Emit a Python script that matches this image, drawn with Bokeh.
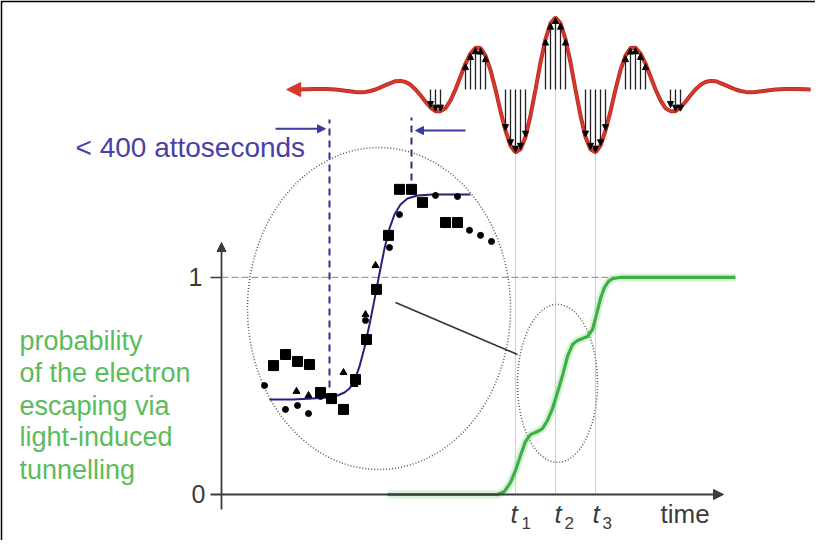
from bokeh.plotting import figure
from bokeh.models import Range1d, Arrow, NormalHead, ColumnDataSource
from bokeh.core.properties import value
from bokeh.embed import file_html
from bokeh.resources import INLINE

# x unit: time (t1 = 1, t2 = 2, t3 = 3); y unit: probability of escape
# --- light field (red pulse) ---
wave_t = [-4.5, -4.25, -4.0, -3.75, -3.5, -3.25,
          -3.0, -2.875, -2.75, -2.625, -2.5, -2.375, -2.25, -2.125, -2.0, -1.875,
          -1.75, -1.625, -1.5, -1.375, -1.25, -1.125, -1.0, -0.875, -0.75, -0.625,
          -0.5, -0.375, -0.25, -0.125, 0.0, 0.125, 0.25, 0.375, 0.5, 0.625,
          0.75, 0.875, 1.0, 1.125, 1.25, 1.375, 1.5, 1.625, 1.75, 1.875, 2.0,
          2.125, 2.25, 2.375, 2.5, 2.625, 2.75, 2.875, 3.0, 3.125, 3.25,
          3.375, 3.5, 3.625, 3.75, 3.875, 4.0, 4.125, 4.25, 4.375, 4.5,
          4.625, 4.75, 4.875, 5.0, 5.125, 5.25, 5.375, 5.5, 5.625, 5.75,
          5.875, 6.0, 6.125, 6.25, 6.375, 6.5, 6.625, 6.75, 6.875, 7.0,
          7.25, 7.5, 7.75, 8.0, 8.25, 8.375]
wave_field = [0.0, 0.004, 0.008, 0.008, 0.0, -0.018,
              -0.035, -0.037, -0.033, -0.02, 0.0, 0.03, 0.06, 0.09, 0.115, 0.12,
              0.105, 0.065, 0.0, -0.08, -0.17, -0.25, -0.30, -0.30, -0.26, -0.15,
              0.0, 0.18, 0.36, 0.50, 0.58, 0.575, 0.47, 0.27, 0.0, -0.30,
              -0.57, -0.78, -0.87, -0.83, -0.66, -0.36, 0.0, 0.375, 0.70, 0.92, 1.00,
              0.92, 0.70, 0.375, 0.0, -0.36, -0.66, -0.83, -0.87, -0.78, -0.57,
              -0.30, 0.0, 0.27, 0.47, 0.575, 0.58, 0.50, 0.36, 0.18, 0.0,
              -0.15, -0.26, -0.30, -0.30, -0.25, -0.17, -0.08, 0.0, 0.065, 0.105,
              0.12, 0.115, 0.09, 0.06, 0.03, 0.0, -0.02, -0.033, -0.037, -0.035,
              -0.018, 0.0, 0.008, 0.008, 0.004, 0.002]
wave_base = 1.866
wave_amp = 0.332

# field vectors under the pulse
vec_t = [-1.125, -1.0, -0.875,
         -0.25, -0.125, 0.0, 0.125, 0.25,
         0.75, 0.875, 1.0, 1.125, 1.25,
         1.75, 1.875, 2.0, 2.125, 2.25,
         2.75, 2.875, 3.0, 3.125, 3.25,
         3.75, 3.875, 4.0, 4.125, 4.25,
         4.875, 5.0, 5.125]
vec_field = [-0.25, -0.30, -0.30,
             0.36, 0.50, 0.58, 0.575, 0.47,
             -0.57, -0.78, -0.87, -0.83, -0.66,
             0.70, 0.92, 1.00, 0.92, 0.70,
             -0.66, -0.83, -0.87, -0.78, -0.57,
             0.47, 0.575, 0.58, 0.50, 0.36,
             -0.25, -0.30, -0.30]

# --- probability of escape (green) ---
green_t = [-2.2, 0.55, 0.725, 0.875, 1.0, 1.125, 1.25, 1.375, 1.55, 1.675, 1.8, 1.925,
           2.05, 2.175, 2.3, 2.425, 2.55, 2.675, 2.8, 2.925, 3.025, 3.125, 3.225,
           3.325, 3.425, 3.6, 6.5]
green_p = [0.0, 0.0, 0.014, 0.055, 0.111, 0.18, 0.244, 0.276, 0.29, 0.304, 0.341, 0.396,
           0.47, 0.548, 0.636, 0.691, 0.71, 0.719, 0.728, 0.76, 0.829, 0.903, 0.954,
           0.982, 0.995, 1.0, 1.0]

# --- measured step (inset) ---
fit_t = [-5.15, -4.575, -4.075, -3.7, -3.45, -3.275, -3.15, -3.025, -2.9, -2.775,
         -2.65, -2.525, -2.4, -2.275, -2.15, -2.025, -1.875, -1.7, -1.45, -1.075, -0.125]
fit_p = [0.438, 0.438, 0.442, 0.447, 0.456, 0.47, 0.488, 0.525, 0.59, 0.677,
         0.783, 0.899, 1.018, 1.134, 1.226, 1.290, 1.336, 1.364, 1.378, 1.382, 1.382]
sq_t = [-5.05, -4.75, -4.45, -4.15, -3.875, -3.6, -3.3, -3.0, -2.725, -2.475,
        -2.175, -1.9, -1.6, -1.325, -0.75, -0.45]
sq_p = [0.594, 0.645, 0.613, 0.599, 0.470, 0.442, 0.392, 0.530, 0.714, 0.945,
        1.194, 1.406, 1.406, 1.346, 1.253, 1.253]
ci_t = [-5.275, -4.75, -4.45, -4.175, -3.875, -3.55, -2.75, -2.15, -1.9, -1.0,
        -0.45, -0.15, 0.125, 0.4]
ci_p = [0.502, 0.392, 0.410, 0.373, 0.452, 0.452, 0.802, 1.138, 1.290, 1.378,
        1.373, 1.217, 1.194, 1.166]
tri_t = [-4.475, -4.175, -3.3, -3.025, -2.75, -2.5]
tri_p = [0.475, 0.456, 0.562, 0.507, 0.829, 1.055]

# --- annotations ---
t_marks = [1.0, 2.0, 3.0]
t_mark_top = [1.577, 1.866, 1.577]
t_labels = ["1", "2", "3"]
t_sym_x = [0.875, 1.975, 2.925]
t_sub_x = [1.15, 2.225, 3.175]
y_tick_vals = [0, 1]
y_tick_labels = ["0", "1"]
green_lines = ["probability", "of the electron", "escaping via", "light-induced", "tunnelling"]
green_line_y = [0.705, 0.558, 0.410, 0.263, 0.115]
atto_text = "< 400 attoseconds"
time_text = "time"

# geometry of the schematic (data units)
axis_x = -6.35
axis_left = -6.625
axis_right = 6.2
axis_top = 1.161
axis_bottom = -0.069
one_line_end = 3.5
big_ell = dict(x=-2.4125, y=0.857, w=6.575, h=1.484)
small_ell = dict(x=2.05, y=0.512, w=2.0, h=0.728)
connector = dict(x0=-2.0, y0=0.885, x1=1.05, y1=0.645)
dash_x = [-3.65, -1.6]
dash_y0 = [0.493, 1.392]
dash_y1 = [1.728, 1.737]
arrow_l = dict(x0=-5.0, x1=-3.75, y=1.685)
arrow_r = dict(x0=-0.25, x1=-1.5, y=1.677)
wave_tip = -4.72

FONT = value("Liberation Sans")
GRAY = "#3c3c3c"
GREEN = "#3cb043"
BLUE = "#3d3a9e"
RED = "#d8382c"

p = figure(width=815, height=540, x_range=Range1d(-11.825, 8.5), y_range=Range1d(-0.212, 2.267),
           output_backend="svg", toolbar_location=None,
           x_axis_location=None, y_axis_location=None,
           min_border_left=2, min_border_top=2, min_border_right=0, min_border_bottom=0)
p.grid.visible = False
p.border_fill_color = "black"
p.background_fill_color = "white"
p.outline_line_color = None

# big and small dotted ellipses
p.ellipse(x=[big_ell["x"]], y=[big_ell["y"]], width=[big_ell["w"]], height=[big_ell["h"]],
          fill_color=None, line_color="#555555", line_width=1.5, line_dash="1 2")
p.ellipse(x=[small_ell["x"]], y=[small_ell["y"]], width=[small_ell["w"]], height=[small_ell["h"]],
          fill_color=None, line_color="#555555", line_width=1.5, line_dash="1 2")

# level 1 dashed line
p.segment(x0=[axis_x], y0=[1], x1=[one_line_end], y1=[1], line_color="#9a9a9a",
          line_width=1.2, line_dash="7 3")
# vertical time markers
p.segment(x0=t_marks, y0=[0] * 3, x1=t_marks, y1=t_mark_top, line_color="#a8a8a8",
          line_width=1.2, line_dash="1 1")

# connector
p.segment(x0=[connector["x0"]], y0=[connector["y0"]], x1=[connector["x1"]], y1=[connector["y1"]],
          line_color="#333333", line_width=1.6)

# axes
p.segment(x0=[axis_left], y0=[1], x1=[axis_x], y1=[1], line_color=GRAY, line_width=1.5)
p.add_layout(Arrow(x_start=axis_x, y_start=axis_bottom, x_end=axis_x, y_end=axis_top,
                   line_color=GRAY, line_width=1.8,
                   end=NormalHead(size=9, fill_color=GRAY, line_color=GRAY)))
p.add_layout(Arrow(x_start=axis_left, y_start=0, x_end=axis_right, y_end=0,
                   line_color=GRAY, line_width=1.8,
                   end=NormalHead(size=10, fill_color=GRAY, line_color=GRAY)))

# green probability curve
p.line(green_t, green_p, line_width=8, line_color="#8fd88f", line_alpha=0.35)
p.line(green_t, green_p, line_width=3.2, line_color=GREEN)

# inset: measured data and fit
p.segment(x0=dash_x, y0=dash_y0, x1=dash_x, y1=dash_y1, line_color="#2f2f86",
          line_width=2, line_dash="7 5")
p.line(fit_t, fit_p, line_width=2, line_color="#23237e")
p.scatter(sq_t, sq_p, marker="square", size=10, color="black")
p.scatter(ci_t, ci_p, marker="circle", size=6, color="black")
p.scatter(tri_t, tri_p, marker="triangle", size=7, color="black")

p.add_layout(Arrow(x_start=arrow_l["x0"], y_start=arrow_l["y"], x_end=arrow_l["x1"], y_end=arrow_l["y"],
                   line_color=BLUE, line_width=2,
                   end=NormalHead(size=8, fill_color=BLUE, line_color=BLUE)))
p.add_layout(Arrow(x_start=arrow_r["x0"], y_start=arrow_r["y"], x_end=arrow_r["x1"], y_end=arrow_r["y"],
                   line_color=BLUE, line_width=2,
                   end=NormalHead(size=8, fill_color=BLUE, line_color=BLUE)))

# field vectors
vec_src = ColumnDataSource(data=dict(
    x0=vec_t, y0=[wave_base] * len(vec_t), x1=vec_t,
    y1=[wave_base + wave_amp * f for f in vec_field]))
p.add_layout(Arrow(source=vec_src, x_start="x0", y_start="y0", x_end="x1", y_end="y1",
                   line_color="#222222", line_width=1.3,
                   end=NormalHead(size=6, fill_color="black", line_color="black")))

# red pulse
wave_y = [wave_base + wave_amp * f for f in wave_field]
p.line(wave_t, wave_y, line_width=4, line_color="#b52a22")
p.line(wave_t, wave_y, line_width=2.4, line_color=RED)
p.add_layout(Arrow(x_start=wave_t[0] + 0.1, y_start=wave_base, x_end=wave_tip, y_end=wave_base,
                   line_alpha=0, line_width=0,
                   end=NormalHead(size=14, fill_color=RED, line_color=RED)))

# texts
p.text(x=[-11.4] * len(green_lines), y=green_line_y, text=green_lines, text_font=FONT,
       text_font_size="27px", text_color="#5cbb5c", text_baseline="middle", text_align="left")
p.text(x=[-10.0], y=[1.599], text=[atto_text], text_font=FONT, text_font_size="28px",
       text_color="#4a40a6", text_baseline="middle", text_align="left")
p.text(x=[-7.0, -6.925], y=[1.0, 0.0], text=y_tick_labels[::-1], text_font=FONT,
       text_font_size="25px", text_color=GRAY, text_baseline="middle", text_align="center")
p.text(x=[4.625], y=[-0.092], text=[time_text], text_font=FONT, text_font_size="26px",
       text_color=GRAY, text_baseline="middle", text_align="left")
p.text(x=t_sym_x, y=[-0.092] * 3, text=["t"] * 3, text_font=FONT, text_font_size="26px",
       text_font_style="italic", text_color=GRAY, text_baseline="middle", text_align="left")
p.text(x=t_sub_x, y=[-0.13] * 3, text=t_labels, text_font=FONT, text_font_size="17px",
       text_color=GRAY, text_baseline="middle", text_align="left")

open("out.html", "w").write(file_html(p, INLINE))
